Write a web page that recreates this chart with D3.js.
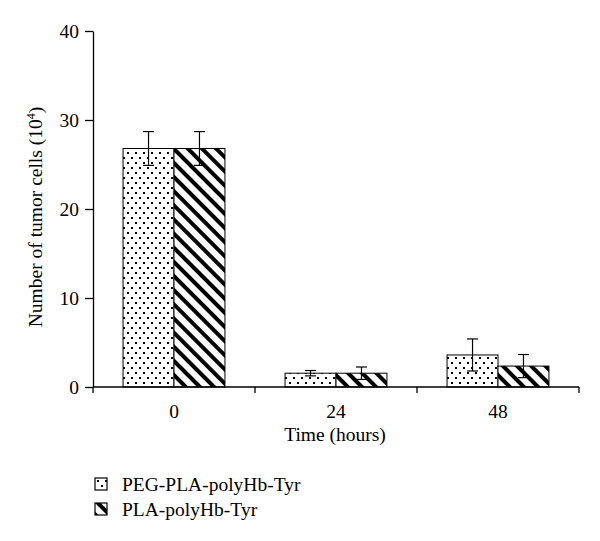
<!DOCTYPE html>
<html lang="en">
<head>
    <meta charset="UTF-8">
    <script src="https://cdn.jsdelivr.net/npm/d3@7"></script>
    <title>Tumor cells</title>
    <style>
        body { margin: 0; background: white; }
        text { font-family: 'Liberation Serif', 'DejaVu Serif', serif; fill: black; }
    </style>
</head>
<body>
<div class="fig"></div>
<script>
    // data
    const times = ["0", "24", "48"];
    const seriesNames = ["PEG-PLA-polyHb-Tyr", "PLA-polyHb-Tyr"];
    const pegValues = [26.8, 1.55, 3.6];
    const pegErrors = [1.9, 0.3, 1.8];
    const plaValues = [26.8, 1.55, 2.35];
    const plaErrors = [1.9, 0.7, 1.3];
    const yTicks = [0, 10, 20, 30, 40];

    const width = 600, height = 541;
    const x0 = 93, x1 = 579, yTop = 31, yBottom = 387;
    const fontSize = "19.5px";

    const svg = d3.select(".fig").append("svg")
        .attr("width", width)
        .attr("height", height);

    const defs = svg.append("defs");
    // dotted fill
    const dots = defs.append("pattern")
        .attr("id", "dots")
        .attr("patternUnits", "userSpaceOnUse")
        .attr("width", 8).attr("height", 10);
    dots.append("rect").attr("width", 8).attr("height", 10).attr("fill", "white");
    dots.append("rect").attr("x", 2).attr("y", 2).attr("width", 2).attr("height", 2).attr("fill", "black");
    dots.append("rect").attr("x", 6).attr("y", 7).attr("width", 2).attr("height", 2).attr("fill", "black");
    // diagonal stripes
    const stripes = defs.append("pattern")
        .attr("id", "stripes")
        .attr("patternUnits", "userSpaceOnUse")
        .attr("width", 10).attr("height", 10)
        .attr("patternTransform", "rotate(-45)");
    stripes.append("rect").attr("width", 10).attr("height", 10).attr("fill", "white");
    stripes.append("rect").attr("width", 4).attr("height", 10).attr("fill", "black");

    const fills = ["url(#dots)", "url(#stripes)"];

    const x = d3.scaleBand().domain(times).range([x0, x1]);
    const xInner = d3.scaleBand().domain(seriesNames)
        .range([0, x.bandwidth()]).paddingOuter(0.59);
    const y = d3.scaleLinear().domain([0, 40]).range([yBottom, yTop]);

    const rows = times.map((t, i) => ({
        time: t,
        bars: [
            { name: seriesNames[0], value: pegValues[i], err: pegErrors[i] },
            { name: seriesNames[1], value: plaValues[i], err: plaErrors[i] }
        ]
    }));

    const groups = svg.selectAll("g.grp")
        .data(rows)
        .enter()
        .append("g")
        .attr("class", "grp")
        .attr("transform", d => `translate(${x(d.time)},0)`);

    groups.selectAll("rect")
        .data(d => d.bars)
        .enter()
        .append("rect")
        .attr("x", d => xInner(d.name))
        .attr("y", d => y(d.value))
        .attr("width", xInner.bandwidth())
        .attr("height", d => y(0) - y(d.value))
        .attr("fill", (d, i) => fills[i])
        .attr("stroke", "black")
        .attr("stroke-width", 1);

    // error bars
    const err = groups.selectAll("g.err")
        .data(d => d.bars)
        .enter()
        .append("g")
        .attr("class", "err")
        .attr("stroke", "black")
        .attr("stroke-width", 1.2);
    const cx = d => xInner(d.name) + xInner.bandwidth() / 2;
    err.append("line")
        .attr("x1", cx).attr("x2", cx)
        .attr("y1", d => y(d.value + d.err))
        .attr("y2", d => y(d.value - d.err));
    err.append("line")
        .attr("x1", d => cx(d) - 5.5).attr("x2", d => cx(d) + 5.5)
        .attr("y1", d => y(d.value + d.err))
        .attr("y2", d => y(d.value + d.err));
    err.append("line")
        .attr("x1", d => cx(d) - 5.5).attr("x2", d => cx(d) + 5.5)
        .attr("y1", d => y(d.value - d.err))
        .attr("y2", d => y(d.value - d.err));

    // y axis
    const yAxis = svg.append("g")
        .attr("transform", `translate(${x0},0)`)
        .call(d3.axisLeft(y).tickValues(yTicks).tickSize(8).tickSizeOuter(0).tickPadding(6));
    yAxis.selectAll("text").style("font-size", fontSize)
        .style("font-family", "'Liberation Serif', serif");
    yAxis.selectAll("line, path").attr("stroke", "black").attr("stroke-width", 1.3);

    // x axis with ticks on the band edges
    const xAxis = svg.append("g").attr("transform", `translate(0,${yBottom})`);
    xAxis.append("line")
        .attr("x1", x0).attr("x2", x1)
        .attr("stroke", "black").attr("stroke-width", 1.3);
    const edges = times.map(t => x(t)).concat([x1]);
    xAxis.selectAll("line.edge")
        .data(edges)
        .enter()
        .append("line")
        .attr("class", "edge")
        .attr("x1", d => d).attr("x2", d => d)
        .attr("y1", 0).attr("y2", 6)
        .attr("stroke", "black").attr("stroke-width", 1.3);
    xAxis.selectAll("text")
        .data(times)
        .enter()
        .append("text")
        .attr("x", d => x(d) + x.bandwidth() / 2)
        .attr("y", 31)
        .attr("text-anchor", "middle")
        .style("font-size", fontSize)
        .text(d => d);

    svg.append("text")
        .attr("x", (x0 + x1) / 2 - 1)
        .attr("y", 441)
        .attr("text-anchor", "middle")
        .style("font-size", fontSize)
        .text("Time (hours)");

    const yLabel = svg.append("text")
        .attr("transform", `translate(42,${(yTop + yBottom) / 2 + 8}) rotate(-90)`)
        .attr("text-anchor", "middle")
        .style("font-size", fontSize);
    yLabel.append("tspan").text("Number of tumor cells (10");
    yLabel.append("tspan").attr("dy", -7).style("font-size", "12px").text("4");
    yLabel.append("tspan").attr("dy", 7).text(")");

    // legend
    const legend = svg.selectAll("g.leg")
        .data(seriesNames)
        .enter()
        .append("g")
        .attr("class", "leg")
        .attr("transform", (d, i) => `translate(95,${478 + i * 25})`);
    legend.append("rect")
        .attr("width", 12).attr("height", 12)
        .attr("fill", (d, i) => fills[i])
        .attr("stroke", "black").attr("stroke-width", 1.2);
    legend.append("text")
        .attr("x", 27).attr("y", 13)
        .style("font-size", fontSize)
        .text(d => d);
</script>
</body>
</html>
